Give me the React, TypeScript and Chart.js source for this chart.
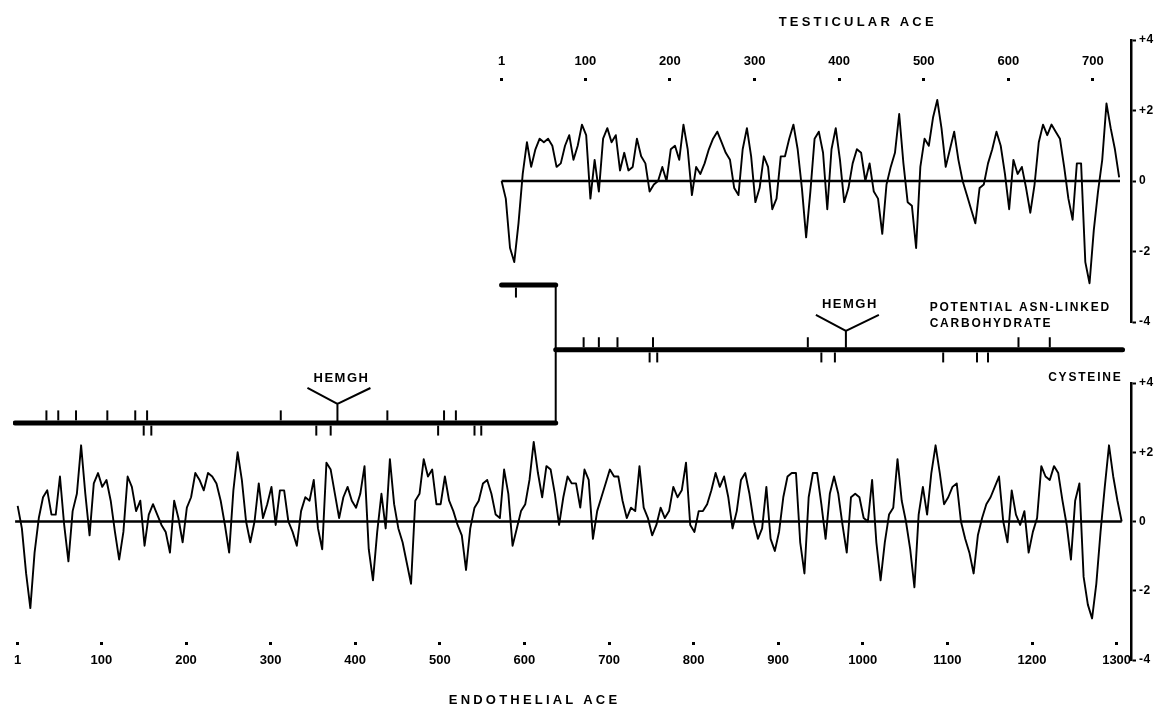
import React, { useEffect, useRef } from "react";
import { Chart, registerables } from "chart.js";

Chart.register(...registerables);

// ---------------- data ----------------
const RESIDUE_STEP = 5; // hydropathy sampled every 5 residues
const ENDO_LENGTH = 1306;
const TESTIS_LENGTH = 732;
const TESTIS_OFFSET = 572; // testicular residue r aligns with endothelial residue r + offset

// Endothelial ACE hydropathy, residues 1, 6, 11, ... 1306
const ENDO_HYDRO = [
  0.45, -0.2, -1.5, -2.5, -0.9, 0.1, 0.7, 0.9, 0.2, 0.2,
  1.3, -0.1, -1.15, 0.3, 0.8, 2.2, 0.8, -0.4, 1.1, 1.4,
  1.0, 1.2, 0.6, -0.3, -1.1, -0.3, 1.3, 1.0, 0.3, 0.6,
  -0.7, 0.2, 0.5, 0.2, -0.1, -0.3, -0.9, 0.6, 0.1, -0.6,
  0.4, 0.7, 1.4, 1.2, 0.9, 1.4, 1.3, 1.1, 0.6, -0.1,
  -0.9, 0.9, 2.0, 1.2, 0.0, -0.6, 0.0, 1.1, 0.1, 0.5,
  1.0, -0.1, 0.9, 0.9, 0.0, -0.3, -0.7, 0.3, 0.7, 0.6,
  1.2, -0.2, -0.8, 1.7, 1.5, 0.8, 0.1,
  0.7, 1.0, 0.6, 0.4, 0.8, 1.6, -0.8, -1.7, -0.3, 0.8,
  -0.2, 1.8, 0.5, -0.2, -0.6, -1.2, -1.8, 0.6, 0.8, 1.8,
  1.3, 1.5, 0.5, 0.5, 1.3, 0.6, 0.3, -0.1, -0.4, -1.4,
  -0.2, 0.4, 0.6, 1.1, 1.2, 0.8, 0.2, 0.1, 1.5, 0.8,
  -0.7, -0.2, 0.3, 0.5, 1.2, 2.3, 1.4, 0.7, 1.6, 1.5,
  0.8, -0.1, 0.7, 1.3, 1.1, 1.1, 0.4, 1.5, 1.2, -0.5,
  0.3, 0.7, 1.1, 1.5, 1.3, 1.3, 0.6, 0.1, 0.4, 0.3,
  1.6, 0.4, 0.1, -0.4, -0.1, 0.4, 0.1, 0.3,
  1.0, 0.7, 0.9, 1.7, -0.1, -0.3, 0.3, 0.3, 0.5, 0.9,
  1.4, 1.0, 1.3, 0.7, -0.2, 0.3, 1.2, 1.4, 0.8, 0.0,
  -0.5, -0.2, 1.0, -0.5, -0.85, -0.3, 0.7, 1.3, 1.4, 1.4,
  -0.6, -1.5, 0.7, 1.4, 1.4, 0.5, -0.5, 0.8, 1.3, 0.8,
  -0.1, -0.9, 0.7, 0.8, 0.7, 0.1, 0.0, 1.2, -0.6, -1.7,
  -0.6, 0.2, 0.4, 1.8, 0.6, 0.0, -0.8, -1.9, 0.2, 1.0,
  0.2, 1.4, 2.2, 1.4, 0.5, 0.7, 1.0, 1.1, 0.0, -0.5,
  -0.9, -1.5, -0.4, 0.1, 0.5, 0.7, 1.0, 1.3,
  0.0, -0.6, 0.9, 0.2, -0.1, 0.3, -0.9, -0.3, 0.1, 1.6,
  1.3, 1.2, 1.6, 1.4, 0.6, -0.1, -1.1, 0.6, 1.1, -1.6,
  -2.4, -2.8, -1.8, -0.3, 1.0, 2.2, 1.3, 0.6, 0.0,
];

// Testicular ACE hydropathy, residues 1, 6, 11, ... 731
const TESTIS_HYDRO = [
  0.0, -0.5, -1.9, -2.3, -1.2, 0.2, 1.1, 0.4, 0.9, 1.2,
  1.1, 1.2, 1.0, 0.4, 0.5, 1.0, 1.3, 0.6, 1.0, 1.6,
  1.3, -0.5, 0.6, -0.3, 1.2, 1.5, 1.1, 1.3, 0.3, 0.8,
  0.3, 0.4, 1.2, 0.7, 0.5, -0.3, -0.1, 0.0, 0.4, 0.0,
  0.9, 1.0, 0.6, 1.6, 0.9, -0.4, 0.4, 0.2, 0.5, 0.9,
  1.2, 1.4, 1.1, 0.8, 0.6, -0.2, -0.4, 0.9, 1.5, 0.7,
  -0.6, -0.2, 0.7, 0.4, -0.8, -0.5, 0.7, 0.7, 1.2, 1.6,
  0.9, -0.2, -1.6,
  -0.3, 1.2, 1.4, 0.8, -0.8, 0.9, 1.5, 0.6, -0.6, -0.2,
  0.5, 0.9, 0.8, 0.0, 0.5, -0.3, -0.5, -1.5, -0.1, 0.4,
  0.8, 1.9, 0.5, -0.6, -0.7, -1.9, 0.4, 1.2, 1.0, 1.8,
  2.3, 1.5, 0.4, 0.9, 1.4, 0.6, 0.0, -0.4, -0.8, -1.2,
  -0.2, -0.1, 0.5, 0.9, 1.4, 1.0, 0.2, -0.8, 0.6, 0.2,
  0.4, -0.2, -0.9, -0.1, 1.1, 1.6, 1.3, 1.6, 1.4, 1.2,
  0.4, -0.5, -1.1, 0.5, 0.5, -2.3, -2.9, -1.4, -0.3, 0.6,
  2.2, 1.5, 0.9, 0.1,
];

const ENDO_TICKS = [1, 100, 200, 300, 400, 500, 600, 700, 800, 900, 1000, 1100, 1200, 1300];
const TESTIS_TICKS = [1, 100, 200, 300, 400, 500, 600, 700];
const HYDRO_TICKS = [-4, -2, 0, 2, 4];

// schematic (endothelial residue numbering unless noted)
const N_DOMAIN_START = -2;
const DOMAIN_SPLIT = 637;
const C_DOMAIN_END = 1307;
const TESTIS_UNIQUE_START = 1; // testicular numbering
const CARB_SITES_N = [35, 49, 70, 107, 140, 154, 312, 438, 505, 519];
const CYS_SITES_N = [150, 159, 354, 371, 498, 541, 549];
const CARB_SITES_C = [670, 688, 710, 752, 935, 1184, 1221];
const CYS_SITES_C = [748, 757, 951, 967, 1095, 1135, 1148];
const CYS_SITES_TESTIS = [18]; // testicular numbering
const HEMGH_N = 379;
const HEMGH_C = 980;

// ---------------- layout ----------------
const W = 1158;
const H = 713;
const FONT = "'Liberation Sans', Arial, sans-serif";
const PLOT_LEFT = 13;
const PLOT_RIGHT = 1131;
const X_MIN = -4.5;
const X_MAX = 1317;
const TOP_PLOT = { top: 40, bottom: 322 };
const BOT_PLOT = { top: 383, bottom: 660 };
const AX_AREA = { top: 81, bottom: 642 };
const LANE = { testis: 3, c: 2.06, n: 1 };
const LANE_MIN = -2.174;
const LANE_MAX = 5.956;
const TICK_OFFSET = 0.11;

const boldFont = (size: number) => ({ family: FONT, size, weight: "bold" as const });

const spacingPlugin = (px: number) => ({
  id: "spacing",
  beforeDraw(chart: any) {
    chart.ctx.letterSpacing = `${px}px`;
  },
});

function hydroAxis() {
  return {
    type: "linear",
    position: "right",
    min: -4,
    max: 4,
    bounds: "data",
    afterBuildTicks: (s: any) => {
      s.ticks = HYDRO_TICKS.map((value) => ({ value }));
    },
    afterFit: (s: any) => {
      s.width = W - PLOT_RIGHT;
    },
    ticks: {
      autoSkip: false,
      color: "#000",
      font: boldFont(12),
      padding: 3,
      callback: (v: any) => (Number(v) > 0 ? `+${v}` : `${v}`),
    },
    grid: {
      display: true,
      drawOnChartArea: false,
      drawTicks: true,
      tickLength: 5,
      tickWidth: 2,
      tickColor: "#000",
    },
    border: { display: true, color: "#000", width: 2.5 },
  };
}

function traceChart(values: number[], length: number, area: { top: number; bottom: number }, xMin: number, xMax: number, zeroStart: number) {
  return {
    type: "line",
    data: {
      datasets: [
        {
          data: values.map((v, i) => ({ x: 1 + i * RESIDUE_STEP, y: v })),
          borderColor: "#000",
          borderWidth: 1.9,
          borderJoinStyle: "round",
          pointRadius: 0,
          tension: 0,
        },
        {
          data: [
            { x: zeroStart, y: 0 },
            { x: length, y: 0 },
          ],
          borderColor: "#000",
          borderWidth: 2.5,
          pointRadius: 0,
        },
      ],
    },
    options: {
      responsive: false,
      animation: false,
      events: [],
      layout: { padding: { left: PLOT_LEFT, right: 0, top: area.top, bottom: H - area.bottom } },
      plugins: { legend: { display: false }, tooltip: { enabled: false }, title: { display: false } },
      scales: {
        x: { type: "linear", display: false, min: xMin, max: xMax, bounds: "data" },
        y: hydroAxis(),
      },
    },
    plugins: [spacingPlugin(0.5)],
  };
}

function residueAxis(position: string, ticks: number[], min: number, max: number, height: number, padding: number) {
  return {
    type: "linear",
    position,
    min,
    max,
    bounds: "data",
    afterBuildTicks: (s: any) => {
      s.ticks = ticks.map((value) => ({ value }));
    },
    afterFit: (s: any) => {
      s.height = height;
    },
    ticks: {
      autoSkip: false,
      maxRotation: 0,
      color: "#000",
      font: boldFont(13),
      padding,
      callback: (v: any) => `${v}`,
    },
    grid: {
      display: true,
      drawOnChartArea: false,
      drawTicks: true,
      tickLength: 3,
      tickWidth: 3,
      tickColor: "#000",
    },
    border: { display: false },
  };
}

const schematicText = {
  id: "schematicText",
  afterDatasetsDraw(chart: any) {
    const { ctx } = chart;
    const xs = chart.scales.x;
    const xt = chart.scales.xt;
    const ys = chart.scales.ys;
    ctx.save();
    ctx.fillStyle = "#000";
    ctx.strokeStyle = "#000";
    ctx.textBaseline = "middle";
    const setFont = (size: number, spacing: number) => {
      ctx.font = `bold ${size}px ${FONT}`;
      ctx.letterSpacing = `${spacing}px`;
    };
    const hemgh = (res: number, lane: number) => {
      const cx = xs.getPixelForValue(res);
      const cy = ys.getPixelForValue(lane);
      ctx.lineWidth = 2;
      ctx.beginPath();
      ctx.moveTo(cx, cy - 2);
      ctx.lineTo(cx, cy - 19);
      ctx.moveTo(cx - 30, cy - 35);
      ctx.lineTo(cx, cy - 19);
      ctx.lineTo(cx + 33, cy - 35);
      ctx.stroke();
      setFont(13, 1.5);
      ctx.textAlign = "center";
      ctx.fillText("HEMGH", cx + 4, cy - 45);
    };
    hemgh(HEMGH_N, LANE.n);
    hemgh(HEMGH_C, LANE.c);

    const cy = ys.getPixelForValue(LANE.c);
    setFont(12, 1.8);
    ctx.textAlign = "left";
    const legendX = xs.getPixelForValue(1079);
    ctx.fillText("POTENTIAL ASN-LINKED", legendX, cy - 42);
    ctx.fillText("CARBOHYDRATE", legendX, cy - 26);
    ctx.textAlign = "right";
    ctx.fillText("CYSTEINE", xs.getPixelForValue(C_DOMAIN_END), cy + 28);

    setFont(13, 3.2);
    ctx.textAlign = "center";
    ctx.fillText("TESTICULAR ACE", xt.getPixelForValue(422), 22);
    ctx.fillText("ENDOTHELIAL ACE", xs.getPixelForValue(612), 700);
    ctx.restore();
  },
};

function schematicChart() {
  const bar = (pts: { x: number; y: number }[], width: number) => ({
    data: pts,
    borderColor: "#000",
    borderWidth: width,
    borderCapStyle: "round",
    pointRadius: 0,
    xAxisID: "x",
    yAxisID: "ys",
  });
  const ticks = (pts: { x: number; y: number }[]) => ({
    data: pts,
    showLine: false,
    pointStyle: "line",
    rotation: 90,
    pointRadius: 5,
    pointBorderWidth: 2,
    pointBorderColor: "#000",
    borderColor: "#000",
    xAxisID: "x",
    yAxisID: "ys",
  });
  return {
    type: "line",
    data: {
      datasets: [
        bar([{ x: N_DOMAIN_START, y: LANE.n }, { x: DOMAIN_SPLIT, y: LANE.n }], 5),
        bar([{ x: DOMAIN_SPLIT, y: LANE.n }, { x: DOMAIN_SPLIT, y: LANE.testis }], 2),
        bar([{ x: TESTIS_UNIQUE_START + TESTIS_OFFSET, y: LANE.testis }, { x: DOMAIN_SPLIT, y: LANE.testis }], 5),
        bar([{ x: DOMAIN_SPLIT, y: LANE.c }, { x: C_DOMAIN_END, y: LANE.c }], 5),
        ticks([
          ...CARB_SITES_N.map((r) => ({ x: r, y: LANE.n + TICK_OFFSET })),
          ...CARB_SITES_C.map((r) => ({ x: r, y: LANE.c + TICK_OFFSET })),
        ]),
        ticks([
          ...CYS_SITES_N.map((r) => ({ x: r, y: LANE.n - TICK_OFFSET })),
          ...CYS_SITES_C.map((r) => ({ x: r, y: LANE.c - TICK_OFFSET })),
          ...CYS_SITES_TESTIS.map((r) => ({ x: r + TESTIS_OFFSET, y: LANE.testis - TICK_OFFSET })),
        ]),
      ],
    },
    options: {
      responsive: false,
      animation: false,
      events: [],
      layout: { padding: { left: PLOT_LEFT, right: W - PLOT_RIGHT, top: 0, bottom: 0 } },
      plugins: { legend: { display: false }, tooltip: { enabled: false }, title: { display: false } },
      scales: {
        x: residueAxis("bottom", ENDO_TICKS, X_MIN, X_MAX, H - AX_AREA.bottom, 8),
        xt: residueAxis("top", TESTIS_TICKS, X_MIN - TESTIS_OFFSET, X_MAX - TESTIS_OFFSET, AX_AREA.top, 9),
        ys: { type: "linear", display: false, min: LANE_MIN, max: LANE_MAX, bounds: "data" },
      },
    },
    plugins: [spacingPlugin(0), schematicText],
  };
}

export default function App() {
  const topRef = useRef<HTMLCanvasElement>(null);
  const botRef = useRef<HTMLCanvasElement>(null);
  const axRef = useRef<HTMLCanvasElement>(null);

  useEffect(() => {
    const charts: Chart[] = [];
    charts.push(
      new Chart(
        topRef.current as HTMLCanvasElement,
        traceChart(TESTIS_HYDRO, TESTIS_LENGTH, TOP_PLOT, X_MIN - TESTIS_OFFSET, X_MAX - TESTIS_OFFSET, 1) as any
      )
    );
    charts.push(
      new Chart(
        botRef.current as HTMLCanvasElement,
        traceChart(ENDO_HYDRO, ENDO_LENGTH, BOT_PLOT, X_MIN, X_MAX, N_DOMAIN_START) as any
      )
    );
    charts.push(new Chart(axRef.current as HTMLCanvasElement, schematicChart() as any));
    return () => charts.forEach((c) => c.destroy());
  }, []);

  const cs: React.CSSProperties = { position: "absolute", left: 0, top: 0, width: W, height: H };
  return (
    <div style={{ position: "fixed", left: 0, top: 0, width: W, height: H, background: "#fff" }}>
      <canvas ref={topRef} width={W} height={H} style={cs} />
      <canvas ref={botRef} width={W} height={H} style={cs} />
      <canvas ref={axRef} width={W} height={H} style={cs} />
    </div>
  );
}
